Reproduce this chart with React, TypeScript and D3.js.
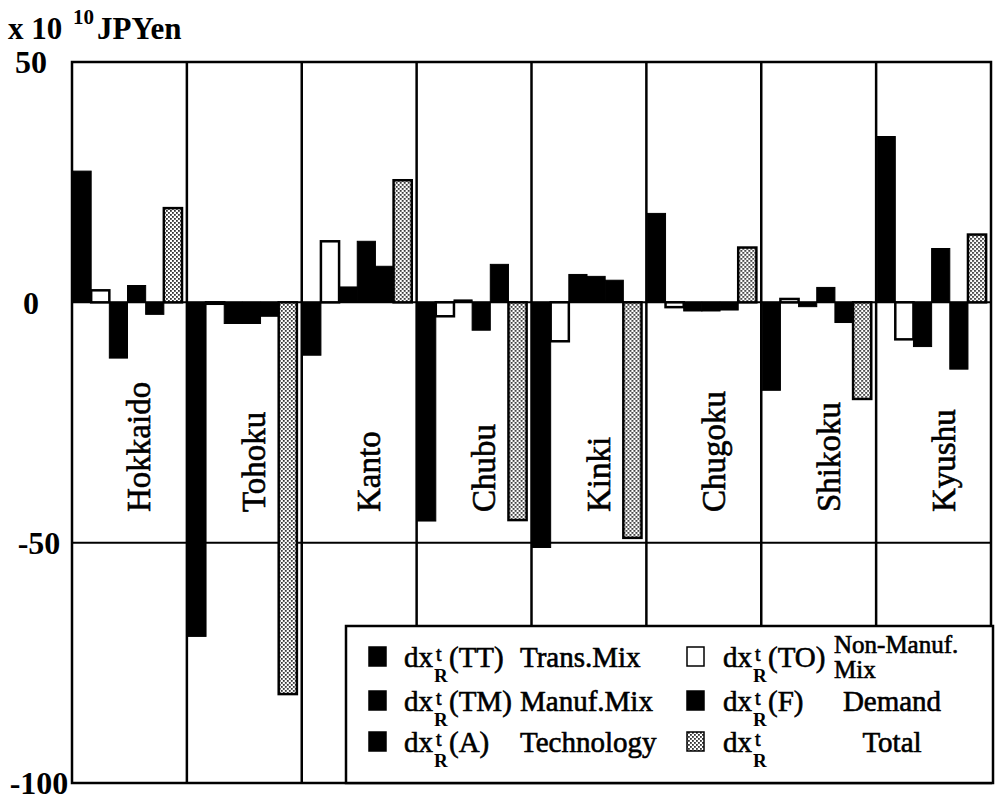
import React from "react";
import * as d3 from "d3";

// regional decomposition, unit: 10^10 JPY
const regions = ["Hokkaido", "Tohoku", "Kanto", "Chubu", "Kinki", "Chugoku", "Shikoku", "Kyushu"];
const seriesKeys = ["TT", "TO", "TM", "F", "A", "Total"];

const transMix = [27.3, -69.5, -11, -45.5, -51, 18.5, -18.3, 34.5];
const nonManufMix = [2.5, -0.3, 12.7, -2.9, -8.1, -1.0, 0.7, -7.7];
const manufMix = [-11.6, -4.4, 3.2, 0.5, 5.8, -1.8, -0.9, -9.2];
const demand = [3.5, -4.4, 12.7, -5.8, 5.4, -1.8, 3.1, 11.2];
const technology = [-2.5, -2.9, 7.5, 7.9, 4.6, -1.6, -4.2, -13.9];
const total = [19.6, -81.5, 25.4, -45.3, -49, 11.4, -20.1, 14.1];

const yTicks = [50, 0, -50, -100];
const gridLines = [0, -50];

const legendKeys = ["TT", "TO", "TM", "F", "A", "Total"];
const legendParens = ["(TT)", "(TO)", "(TM)", "(F)", "(A)", ""];
const legendLabels = [["Trans.Mix"], ["Non-Manuf.", "Mix"], ["Manuf.Mix"], ["Demand"], ["Technology"], ["Total"]];

const W = 995;
const H = 803;
const M = { left: 72, right: 991, top: 62, bottom: 783 };
const FONT = "'Liberation Serif', 'Times New Roman', serif";

const values: Record<string, number[]> = {
  TT: transMix,
  TO: nonManufMix,
  TM: manufMix,
  F: demand,
  A: technology,
  Total: total,
};

const fillOf = (k: string) => (k === "TO" ? "#fff" : k === "Total" ? "url(#checker)" : "#000");

// scanned-print look: thicken regular glyphs a bit
const heavy = { stroke: "#000", strokeWidth: 0.6 };

export default function App() {
  const x = d3.scaleBand().domain(regions).range([M.left, M.right]);
  const inner = d3.scaleBand().domain(seriesKeys).range([1, 110]);
  const y = d3.scaleLinear().domain([-100, 50]).range([M.bottom, M.top]);
  const y0 = y(0);

  const legX = 346;
  const legY = 626;
  const rowBase = [667, 711, 752];
  const colSym = [369, 687];
  const colDx = [404, 723];

  return (
    <svg width={W} height={H} style={{ position: "absolute", left: 0, top: 0, background: "#fff" }} fontFamily={FONT}>
      <defs>
        <pattern id="checker" width={4} height={4} patternUnits="userSpaceOnUse">
          <rect width={4} height={4} fill="#fff" />
          <rect x={0} y={0} width={1.8} height={1.8} fill="#333" />
          <rect x={2} y={2} width={1.8} height={1.8} fill="#333" />
        </pattern>
      </defs>

      {/* unit label */}
      <g fontWeight="bold" fill="#000">
        <text x={8} y={39} fontSize={31}>x 10</text>
        <text x={73} y={24} fontSize={21}>10</text>
        <text x={97} y={39} fontSize={31}>JPYen</text>
      </g>

      {/* y tick labels */}
      {yTicks.map((t) => (
        <text key={t} x={t < 0 ? 39 : 31} y={y(t)} dy="0.35em" textAnchor="middle" fontSize={32} fontWeight="bold">
          {t}
        </text>
      ))}

      {/* horizontal grid lines */}
      {gridLines.map((g) => (
        <line key={g} x1={M.left} x2={M.right} y1={y(g)} y2={y(g)} stroke="#000" strokeWidth={2} />
      ))}

      {/* bars */}
      {regions.map((r, i) => (
        <g key={r} transform={`translate(${x(r)},0)`}>
          {seriesKeys.map((k) => {
            const v = values[k][i];
            const yy = y(Math.max(0, v));
            const h = Math.max(1, Math.abs(y(v) - y0));
            return (
              <rect
                key={k}
                x={inner(k)}
                y={yy}
                width={inner.bandwidth()}
                height={h}
                fill={fillOf(k)}
                stroke="#000"
                strokeWidth={k === "Total" || k === "TO" ? 2.5 : 1}
              />
            );
          })}
        </g>
      ))}

      {/* region dividers */}
      {regions.slice(1).map((r) => (
        <line key={r} x1={x(r)} x2={x(r)} y1={M.top} y2={M.bottom} stroke="#000" strokeWidth={2.5} />
      ))}

      {/* plot frame */}
      <rect x={M.left} y={M.top} width={M.right - M.left} height={M.bottom - M.top} fill="none" stroke="#000" strokeWidth={2.5} />

      {/* region names */}
      {regions.map((r) => {
        const cx = (x(r) as number) + x.bandwidth() / 2 + 21;
        return (
          <text key={r} transform={`translate(${cx},512) rotate(-90)`} fontSize={33} {...heavy}>
            {r}
          </text>
        );
      })}

      {/* legend */}
      <rect x={legX} y={legY} width={M.right + 2 - legX} height={M.bottom - legY} fill="#fff" stroke="#000" strokeWidth={2.5} />
      {legendKeys.map((k, i) => {
        const row = Math.floor(i / 2);
        const col = i % 2;
        const base = rowBase[row];
        const dx = colDx[col];
        const lab = legendLabels[i];
        return (
          <g key={k}>
            <rect x={colSym[col]} y={base - 20} width={17} height={19} fill={fillOf(k)} stroke="#000" strokeWidth={1.5} />
            <text x={dx} y={base} fontSize={29} {...heavy}>dx</text>
            <text x={dx + 32} y={base - 6} fontSize={20} {...heavy}>t</text>
            <text x={dx + 30} y={base + 15} fontSize={19} fontWeight="bold">R</text>
            {legendParens[i] && (
              <text x={dx + 45} y={base} fontSize={29} {...heavy}>{legendParens[i]}</text>
            )}
            {col === 0 ? (
              <text x={520} y={base} fontSize={29} {...heavy}>{lab[0]}</text>
            ) : lab.length > 1 ? (
              <g>
                <text x={834} y={base - 14} fontSize={25} {...heavy}>{lab[0]}</text>
                <text x={834} y={base + 11} fontSize={25} {...heavy}>{lab[1]}</text>
              </g>
            ) : (
              <text x={892} y={base} fontSize={29} textAnchor="middle" {...heavy}>{lab[0]}</text>
            )}
          </g>
        );
      })}
    </svg>
  );
}
